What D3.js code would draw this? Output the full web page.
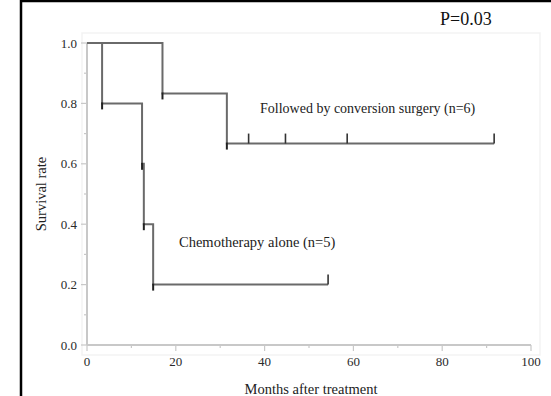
<!DOCTYPE html>
<html>
<head>
<meta charset="utf-8">
<script src="https://cdn.jsdelivr.net/npm/d3@7"></script>
<style>
  body { margin: 0; background: #fff; }
</style>
</head>
<body>
<div id="chart"></div>
<script>
// Kaplan-Meier steps: [month, survival] at each drop
const surgerySteps = [[0, 1.0], [17, 0.833], [31.5, 0.667]];
const surgeryEnd = 91.7;
const surgeryCensored = [36.4, 44.7, 58.6, 91.7];

const chemoSteps = [[0, 1.0], [3.4, 0.8], [12.4, 0.6], [12.8, 0.4], [14.9, 0.2]];
const chemoEnd = 54.3;
const chemoCensored = [54.3];

const xTicks = [0, 20, 40, 60, 80, 100];
const xMinor = [10, 30, 50, 70, 90];
const yTicks = [0, 0.2, 0.4, 0.6, 0.8, 1.0];
const yMinor = [0.1, 0.3, 0.5, 0.7, 0.9];

const width = 551, height = 396;
const serif = '"Liberation Serif", "DejaVu Serif", serif';

const svg = d3.select('#chart')
  .append('svg')
  .attr('width', width)
  .attr('height', height)
  .style('font-family', serif);

// outer frame
svg.append('rect')
  .attr('x', 21)
  .attr('y', 1)
  .attr('width', 560)
  .attr('height', 420)
  .style('fill', 'none')
  .style('stroke', '#000')
  .style('stroke-width', 2.5);

const x = d3.scaleLinear().domain([0, 100]).range([87, 531]);
const y = d3.scaleLinear().domain([0, 1]).range([345, 43]);

// faint plot frame
svg.append('rect')
  .attr('x', 82)
  .attr('y', 33)
  .attr('width', 458)
  .attr('height', 322)
  .style('fill', 'none')
  .style('stroke', '#f3f3f3')
  .style('stroke-width', 1.5);

// axes
const axisColor = '#c8c8c8';
svg.append('line')
  .attr('x1', x(0)).attr('x2', x(0))
  .attr('y1', y(0)).attr('y2', y(1))
  .style('stroke', axisColor).style('stroke-width', 2);
svg.append('line')
  .attr('x1', x(0)).attr('x2', x(100))
  .attr('y1', y(0)).attr('y2', y(0))
  .style('stroke', axisColor).style('stroke-width', 2);

svg.selectAll('.ytick')
  .data(yTicks.concat(yMinor))
  .enter().append('line')
  .attr('x1', d => yTicks.includes(d) ? x(0) - 6 : x(0) - 3)
  .attr('x2', x(0))
  .attr('y1', d => y(d)).attr('y2', d => y(d))
  .style('stroke', axisColor).style('stroke-width', 1.2);

svg.selectAll('.xtick')
  .data(xTicks.concat(xMinor))
  .enter().append('line')
  .attr('x1', d => x(d)).attr('x2', d => x(d))
  .attr('y1', y(0))
  .attr('y2', d => xTicks.includes(d) ? y(0) + 6 : y(0) + 3)
  .style('stroke', axisColor).style('stroke-width', 1.2);

svg.selectAll('.ylab')
  .data(yTicks)
  .enter().append('text')
  .text(d => d.toFixed(1))
  .attr('x', x(0) - 10)
  .attr('y', d => y(d) + 4.5)
  .attr('text-anchor', 'end')
  .style('font-size', '13px')
  .style('fill', '#2a2a2a');

svg.selectAll('.xlab')
  .data(xTicks)
  .enter().append('text')
  .text(d => d)
  .attr('x', d => x(d))
  .attr('y', y(0) + 21)
  .attr('text-anchor', 'middle')
  .style('font-size', '13px')
  .style('fill', '#2a2a2a');

svg.append('text')
  .text('Months after treatment')
  .attr('x', 311)
  .attr('y', 394)
  .attr('text-anchor', 'middle')
  .style('font-size', '14.5px')
  .style('fill', '#222');

svg.append('text')
  .text('Survival rate')
  .attr('transform', 'translate(46, 194) rotate(-90)')
  .attr('text-anchor', 'middle')
  .style('font-size', '14.5px')
  .style('fill', '#222');

svg.append('text')
  .text('P=0.03')
  .attr('x', 440)
  .attr('y', 25)
  .style('font-size', '18px')
  .style('fill', '#111');

// curves
function drawCurve(steps, end, censored) {
  const pts = [];
  steps.forEach((s, i) => {
    if (i > 0) pts.push([s[0], steps[i - 1][1]]);
    pts.push(s);
  });
  pts.push([end, steps[steps.length - 1][1]]);

  svg.append('path')
    .datum(pts)
    .attr('d', d3.line().x(d => x(d[0])).y(d => y(d[1])))
    .style('fill', 'none')
    .style('stroke', '#6a6a6a')
    .style('stroke-width', 2);

  // event marks below each drop
  svg.selectAll(null)
    .data(steps.slice(1))
    .enter().append('line')
    .attr('x1', d => x(d[0])).attr('x2', d => x(d[0]))
    .attr('y1', d => y(d[1]) - 1)
    .attr('y2', d => y(d[1]) + 6)
    .style('stroke', '#222')
    .style('stroke-width', 2);

  const last = steps[steps.length - 1][1];
  svg.selectAll(null)
    .data(censored)
    .enter().append('line')
    .attr('x1', d => x(d)).attr('x2', d => x(d))
    .attr('y1', y(last))
    .attr('y2', y(last) - 10)
    .style('stroke', '#333')
    .style('stroke-width', 1.6);
}

drawCurve(surgerySteps, surgeryEnd, surgeryCensored);
drawCurve(chemoSteps, chemoEnd, chemoCensored);

svg.append('text')
  .text('Followed by conversion surgery (n=6)')
  .attr('x', 260)
  .attr('y', 113)
  .style('font-size', '14px')
  .style('fill', '#222');

svg.append('text')
  .text('Chemotherapy alone (n=5)')
  .attr('x', 179)
  .attr('y', 247)
  .style('font-size', '14.5px')
  .style('fill', '#222');
</script>
</body>
</html>
